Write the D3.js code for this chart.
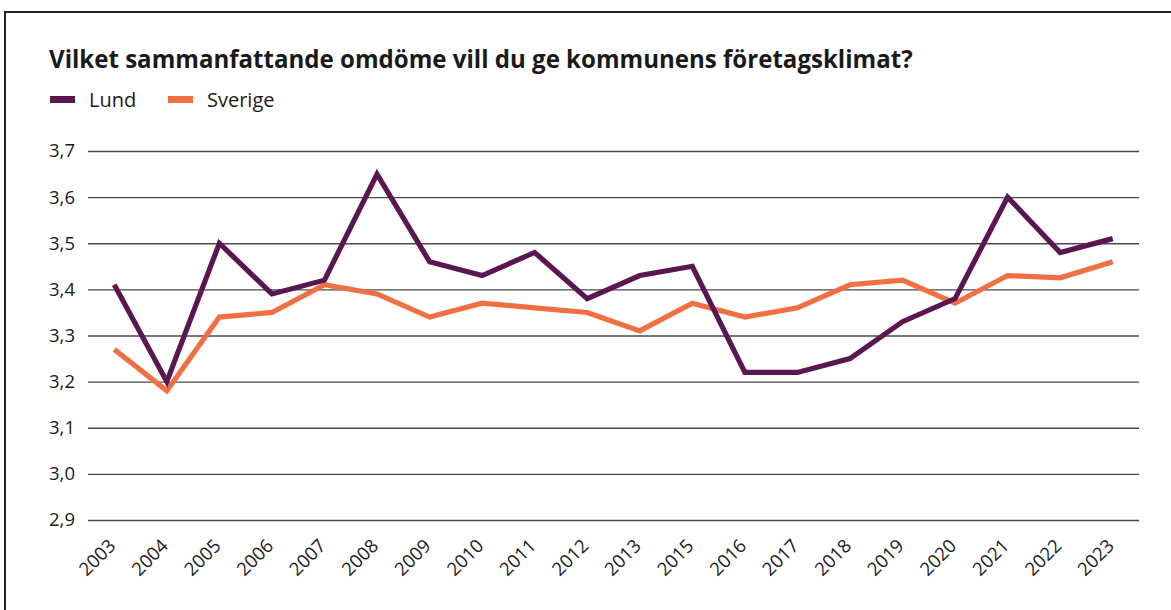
<!DOCTYPE html>
<html lang="sv">
<head>
<meta charset="utf-8">
<script src="https://cdn.jsdelivr.net/npm/d3@7"></script>
<style>
  html, body { margin: 0; padding: 0; background: #fff; }
  svg { display: block; font-family: "Open Sans", "Noto Sans", sans-serif; }
</style>
</head>
<body>
<svg id="chart" width="1171" height="610"></svg>
<script>
// Survey years (2014 is absent from the series)
const years = ["2003","2004","2005","2006","2007","2008","2009","2010","2011","2012",
               "2013","2015","2016","2017","2018","2019","2020","2021","2022","2023"];

// Average rating of the municipality's business climate
const lund    = [3.41, 3.20, 3.50, 3.39, 3.42, 3.65, 3.46, 3.43, 3.48, 3.38,
                 3.43, 3.45, 3.22, 3.22, 3.25, 3.33, 3.38, 3.60, 3.48, 3.51];
const sverige = [3.27, 3.18, 3.34, 3.35, 3.41, 3.39, 3.34, 3.37, 3.36, 3.35,
                 3.31, 3.37, 3.34, 3.36, 3.41, 3.42, 3.37, 3.43, 3.425, 3.46];

const yTicks = [2.9, 3.0, 3.1, 3.2, 3.3, 3.4, 3.5, 3.6, 3.7];

const seriesNames = ["Lund", "Sverige"];
const seriesColors = ["#5a1650", "#f07043"];

const svg = d3.select("#chart");
const plot = { left: 88, right: 1139, top: 151, bottom: 520 };

// Frame: top and left rules
svg.append("path")
  .attr("d", `M5,610 V12 H1171`)
  .attr("fill", "none")
  .attr("stroke", "#222")
  .attr("stroke-width", 2);

// Title, sized to span the header width
const title = svg.append("text")
  .attr("x", 49).attr("y", 68)
  .attr("font-size", 24)
  .attr("font-weight", 700)
  .attr("fill", "#1a1a1a")
  .text("Vilket sammanfattande omdöme vill du ge kommunens företagsklimat?");
const tw = title.node().getComputedTextLength();
if (tw > 0) title.attr("font-size", 24 * 864 / tw);

// Legend
const legend = svg.append("g").attr("font-size", 20).attr("fill", "#1a1a1a");
const legendX = [50, 168];
seriesNames.forEach((name, i) => {
  legend.append("rect")
    .attr("x", legendX[i]).attr("y", 96)
    .attr("width", 25).attr("height", 7)
    .attr("fill", seriesColors[i]);
  legend.append("text")
    .attr("x", legendX[i] + 39).attr("y", 107)
    .text(name);
});

// Scales
const x = d3.scalePoint().domain(years).range([plot.left, plot.right]).padding(0.5);
const y = d3.scaleLinear().domain([2.9, 3.7]).range([plot.bottom, plot.top]);

const sv = d3.formatLocale({ decimal: ",", thousands: " ", grouping: [3], currency: ["", " kr"] });
const fmt = sv.format(".1f");

// Y axis with gridlines
const yAxis = svg.append("g")
  .attr("transform", `translate(${plot.left},0)`)
  .call(d3.axisLeft(y).tickValues(yTicks).tickFormat(fmt)
    .tickSize(-(plot.right - plot.left)).tickPadding(13));
yAxis.select(".domain").remove();
yAxis.selectAll(".tick line").attr("stroke", "#4a4a4a").attr("stroke-width", 1.4);
yAxis.selectAll(".tick text")
  .attr("font-size", 18.5).attr("fill", "#1a1a1a")
  .attr("font-family", "'Open Sans', 'Noto Sans', sans-serif");

// X axis labels, rotated
const xAxis = svg.append("g")
  .attr("transform", `translate(0,${plot.bottom})`)
  .call(d3.axisBottom(x).tickSize(0).tickPadding(0));
xAxis.select(".domain").remove();
xAxis.selectAll(".tick text")
  .attr("font-size", 18.5).attr("fill", "#1a1a1a")
  .attr("font-family", "'Open Sans', 'Noto Sans', sans-serif")
  .attr("text-anchor", "end")
  .attr("dy", 0).attr("y", 0)
  .attr("transform", "translate(2,27) rotate(-45)");

// Lines
const line = d3.line()
  .x((d, i) => x(years[i]))
  .y(d => y(d));

// Sverige first so Lund sits on top where the lines cross
[1, 0].forEach(i => {
  const vals = i === 0 ? lund : sverige;
  svg.append("path")
    .datum(vals)
    .attr("fill", "none")
    .attr("stroke", seriesColors[i])
    .attr("stroke-width", 5.2)
    .attr("stroke-linejoin", "miter")
    .attr("d", line);
});
</script>
</body>
</html>
